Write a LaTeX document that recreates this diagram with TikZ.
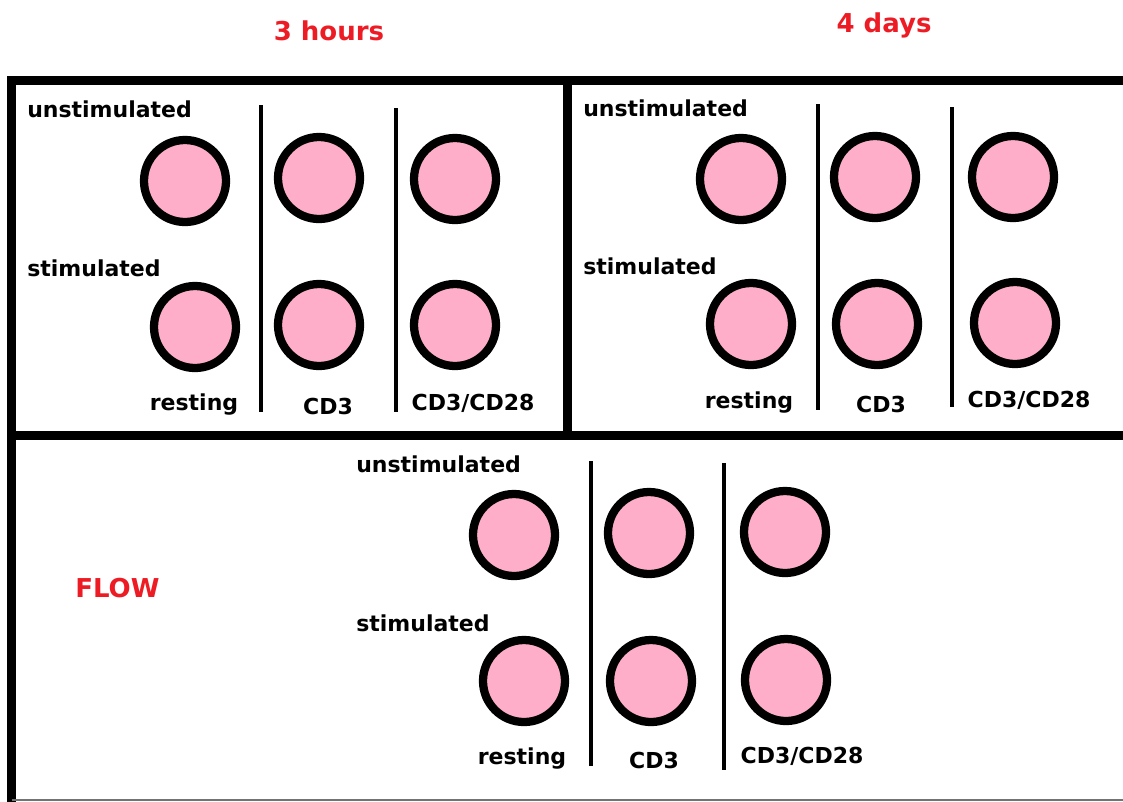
\documentclass[tikz,border=0pt]{standalone}
\usepackage{fontspec}
\setmainfont{DejaVu Sans}
\definecolor{cellpink}{HTML}{FFAEC9}
\definecolor{titlered}{HTML}{ED1C24}
\begin{document}
\begin{tikzpicture}[x=0.75pt,y=-0.75pt,
  cell/.style={circle,draw=black,fill=cellpink,line width=6.2pt,minimum size=82*0.75pt,inner sep=0pt},
  lbl/.style={font=\fontsize{16.5}{18}\selectfont\bfseries,inner sep=0pt,text=black},
  ttl/.style={font=\fontsize{19.5}{22}\selectfont\bfseries,inner sep=0pt,text=titlered},
  frame/.style={line width=6.75pt,black},
  divider/.style={line width=3pt,black}]
\useasboundingbox (0,0) rectangle (1123,801);
% frame
\draw[frame] (1130,80) -- (11.5,80) -- (11.5,805);
\draw[frame] (567,80) -- (567,435);
\draw[frame] (11.5,435) -- (1130,435);
\draw[line width=1.5pt,black!55] (11.5,800) -- (1130,800);
% titles
\node[ttl,anchor=base] (t1) at (329,40) {3 hours};
\node[ttl,anchor=base] (t2) at (884,32) {4 days};
\node[ttl,anchor=base west] (flow) at (75,597) {FLOW};
% panel 1
\node[lbl,anchor=base west] (p1u) at (27,117) {unstimulated};
\node[lbl,anchor=base west] (p1s) at (27,276) {stimulated};
\node[cell] (p1a) at (185,181) {};
\node[cell] (p1b) at (319,178) {};
\node[cell] (p1c) at (455,179) {};
\node[cell] (p1d) at (195,327) {};
\node[cell] (p1e) at (319,325) {};
\node[cell] (p1f) at (455,325) {};
\draw[divider] (261,105) -- (261,412);
\draw[divider] (396,108) -- (396,412);
\node[lbl,anchor=base] (p1r) at (194,410) {resting};
\node[lbl,anchor=base] (p1c3) at (328,414) {CD3};
\node[lbl,anchor=base] (p1c28) at (473,410) {CD3/CD28};
% panel 2
\node[lbl,anchor=base west] (p2u) at (583,116) {unstimulated};
\node[lbl,anchor=base west] (p2s) at (583,274) {stimulated};
\node[cell] (p2a) at (741,179) {};
\node[cell] (p2b) at (875,177) {};
\node[cell] (p2c) at (1013,177) {};
\node[cell] (p2d) at (751,324) {};
\node[cell] (p2e) at (877,324) {};
\node[cell] (p2f) at (1015,323) {};
\draw[divider] (818,104) -- (818,410);
\draw[divider] (952,107) -- (952,407);
\node[lbl,anchor=base] (p2r) at (749,408) {resting};
\node[lbl,anchor=base] (p2c3) at (881,412) {CD3};
\node[lbl,anchor=base] (p2c28) at (1029,407) {CD3/CD28};
% panel 3
\node[lbl,anchor=base west] (p3u) at (356,472) {unstimulated};
\node[lbl,anchor=base west] (p3s) at (356,631) {stimulated};
\node[cell] (p3a) at (514,535) {};
\node[cell] (p3b) at (649,533) {};
\node[cell] (p3c) at (785,532) {};
\node[cell] (p3d) at (524,681) {};
\node[cell] (p3e) at (651,681) {};
\node[cell] (p3f) at (786,680) {};
\draw[divider] (591,461) -- (591,766);
\draw[divider] (724,463) -- (724,770);
\node[lbl,anchor=base] (p3r) at (522,764) {resting};
\node[lbl,anchor=base] (p3c3) at (654,768) {CD3};
\node[lbl,anchor=base] (p3c28) at (802,763) {CD3/CD28};
\end{tikzpicture}
\end{document}
